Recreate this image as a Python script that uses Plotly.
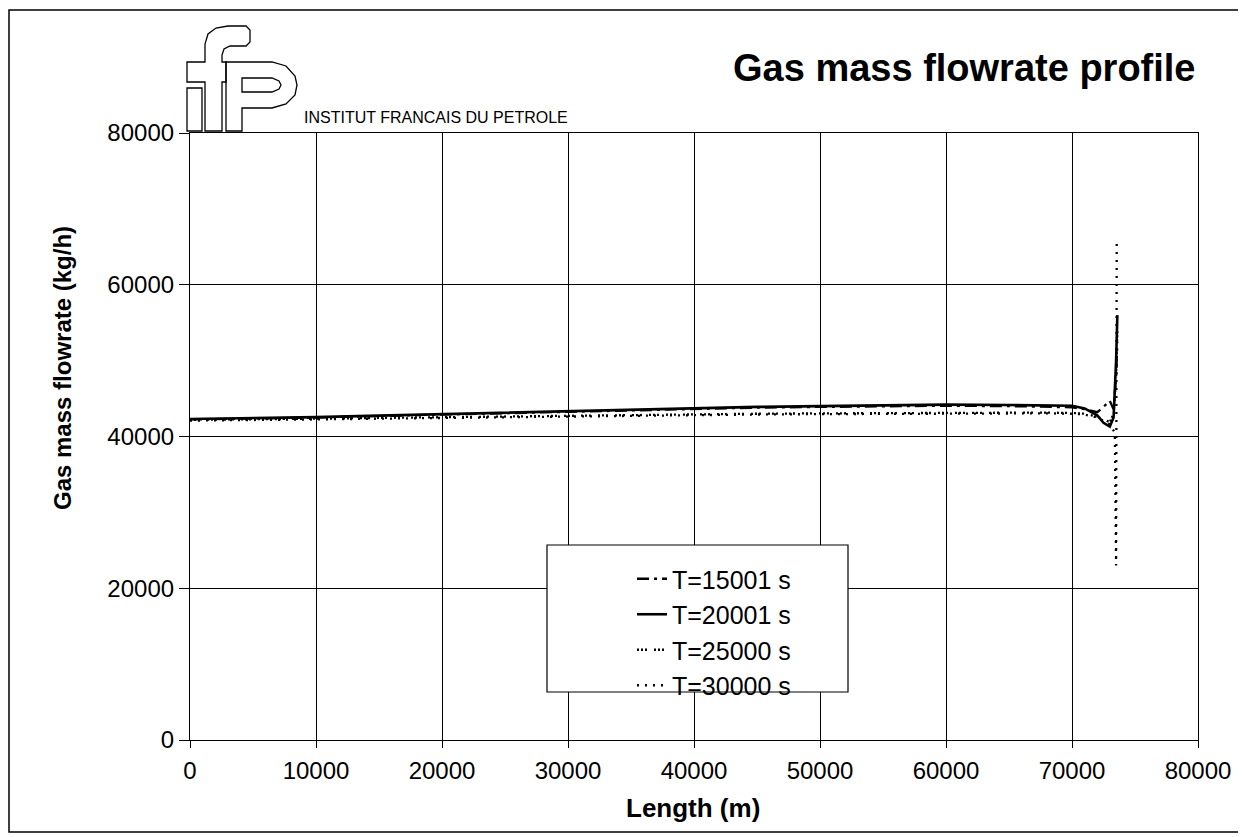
import plotly.graph_objects as go

# Gas mass flowrate profile along the line
length_m = [0, 5000, 10000, 15000, 20000, 25000, 30000, 35000, 40000, 45000,
            50000, 55000, 60000, 65000, 68000, 70000, 71000, 72000, 72500,
            73000, 73300, 73500, 73600]

t15001 = [42250, 42350, 42500, 42700, 42900, 43100, 43300, 43500, 43650, 43800,
          43900, 44000, 44050, 44000, 43950, 43850, 43600, 43200, 43900,
          44700, 43600, 48000, 52500]
t20001 = [42300, 42400, 42550, 42750, 42950, 43150, 43350, 43550, 43750, 43900,
          44000, 44100, 44200, 44150, 44100, 44050, 43700, 42800, 41800,
          41300, 42500, 50000, 56000]
t25000 = [42200, 42250, 42350, 42450, 42550, 42650, 42750, 42850, 42950, 43000,
          43050, 43100, 43150, 43150, 43150, 43100, 43000, 42600, 42200,
          41900, 43000, 48000, 54000]

length_30000 = [0, 5000, 10000, 15000, 20000, 25000, 30000, 35000, 40000, 45000,
                50000, 55000, 60000, 65000, 68000, 70000, 71000, 72000, 72500,
                73000, 73400, 73500, 73550]
t30000 = [42100, 42150, 42250, 42350, 42450, 42550, 42650, 42750, 42850, 42900,
          42950, 43000, 43050, 43050, 43050, 43000, 42900, 42500, 42000,
          41600, 40500, 23000, 66000]

series = [
    ("T=15001 s", length_m, t15001, "12px,5px,3px,5px", 2.3),
    ("T=20001 s", length_m, t20001, "solid", 2.6),
    ("T=25000 s", length_m, t25000, "2px,2px,2px,2px,2px,7px", 2.3),
    ("T=30000 s", length_30000, t30000, "2px,6px", 2.3),
]

FONT = "Arial, Liberation Sans, sans-serif"

# the page body adds an 8px offset, so the figure is laid out 8px up/left
OFF = 8
W, H = 1246 - OFF, 837 - OFF
# plot area in page pixels
L, R, T, B = 190, 1198, 133, 740


def px_x(p):
    return (p - L) / (R - L)


def px_y(p):
    return (B - p) / (B - T)


fig = go.Figure()
for i, (name, xs, ys, dash, w) in enumerate(series):
    fig.add_trace(go.Scatter(
        x=xs, y=ys, mode="lines", name=name, legendgroup=str(i),
        line=dict(color="black", width=w, dash=dash)))

shapes = []
# frame around the whole page
shapes.append(dict(type="rect", xref="paper", yref="paper",
                   x0=px_x(9), x1=px_x(1240), y0=px_y(10), y1=px_y(832),
                   line=dict(color="black", width=1.5)))
# legend box
shapes.append(dict(type="rect", xref="paper", yref="paper", layer="above",
                   x0=px_x(547), x1=px_x(848), y0=px_y(545), y1=px_y(692),
                   fillcolor="white", line=dict(color="black", width=1.2)))


def path(points, close=True):
    s = "M " + " L ".join(f"{px_x(a):.5f},{px_y(b):.5f}" for a, b in points)
    return s + (" Z" if close else "")


# ifp logo outline
logo = [
    # i stem
    [(187, 88), (202, 88), (202, 131), (187, 131)],
    # f with crossbar and hook
    [(187, 62), (205, 62), (205, 44), (208, 34), (216, 28), (228, 26), (246, 26),
     (250, 30), (250, 42), (246, 46), (230, 46), (224, 49), (222, 55), (222, 62),
     (226, 62), (226, 82), (222, 82), (222, 131), (205, 131), (205, 82), (187, 82)],
    # P outer
    [(226, 62), (272, 62), (286, 66), (295, 76), (297, 85), (295, 95), (286, 104),
     (272, 108), (242, 108), (242, 131), (226, 131)],
    # P inner
    [(242, 78), (272, 78), (279, 81), (281, 85), (279, 89), (272, 92), (242, 92)],
]
for pts in logo:
    shapes.append(dict(type="path", xref="paper", yref="paper",
                       path=path(pts), line=dict(color="black", width=1.3)))

fig.update_layout(
    width=W, height=H,
    margin=dict(l=L - OFF, r=W - (R - OFF), t=T - OFF, b=H - (B - OFF)),
    paper_bgcolor="white", plot_bgcolor="white",
    font=dict(family=FONT, color="black", size=22),
    showlegend=True,
    legend=dict(x=px_x(632), y=px_y(556), xanchor="left", yanchor="top",
                bgcolor="rgba(0,0,0,0)", borderwidth=0,
                font=dict(family=FONT, size=25, color="black"),
                tracegroupgap=0),
    shapes=shapes,
    annotations=[
        dict(text="<b>Gas mass flowrate profile</b>", xref="paper", yref="paper",
             x=px_x(1198), y=px_y(68), xanchor="right", yanchor="middle",
             showarrow=False, font=dict(family=FONT, size=38, color="black")),
        dict(text="INSTITUT FRANCAIS DU PETROLE", xref="paper", yref="paper",
             x=px_x(302), y=px_y(117), xanchor="left", yanchor="middle",
             showarrow=False, font=dict(family=FONT, size=16, color="black")),
        dict(text="<b>Gas mass flowrate (kg/h)</b>", xref="paper", yref="paper",
             x=px_x(62), y=px_y(368), xanchor="center", yanchor="middle",
             textangle=-90, showarrow=False,
             font=dict(family=FONT, size=24, color="black")),
        dict(text="<b>Length (m)</b>", xref="paper", yref="paper",
             x=px_x(693), y=px_y(808), xanchor="center", yanchor="middle",
             showarrow=False, font=dict(family=FONT, size=26, color="black")),
    ],
)

fig.update_xaxes(
    range=[0, 80000], dtick=10000, tickformat="d",
    showgrid=True, gridcolor="black", gridwidth=1,
    showline=True, linecolor="black", linewidth=1.2, mirror=True,
    ticks="outside", ticklen=7, tickcolor="black",
    tickfont=dict(family=FONT, size=24), ticklabelstandoff=2,
    zeroline=False)
fig.update_yaxes(
    range=[0, 80000], dtick=20000, tickformat="d",
    showgrid=True, gridcolor="black", gridwidth=1,
    showline=True, linecolor="black", linewidth=1.2, mirror=True,
    ticks="outside", ticklen=10, tickcolor="black",
    tickfont=dict(family=FONT, size=24),
    zeroline=False)

fig.write_html("out.html")
